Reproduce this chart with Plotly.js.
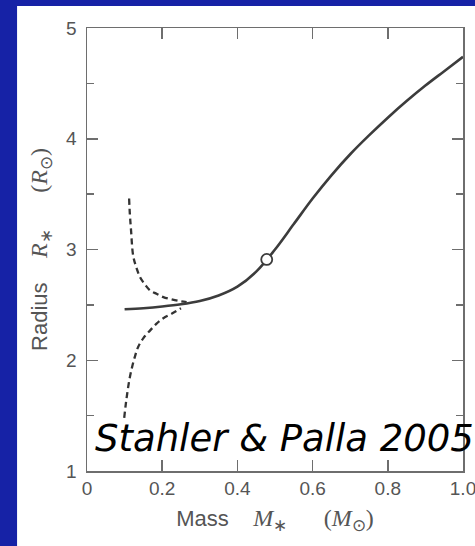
<!DOCTYPE html>
<html>
<head>
<meta charset="utf-8">
<script src="https://cdn.plot.ly/plotly-3.0.1.min.js"></script>
<style>html,body{margin:0;padding:0;background:#1622a6;}#chart{width:475px;height:546px;}</style>
</head>
<body>
<div id="chart"></div>
<script>
// Solid curve (main track)
const solidMass   = [0.10,0.15,0.20,0.25,0.30,0.35,0.40,0.45,0.50,0.55,0.60,0.65,0.70,0.75,0.80,0.85,0.90,0.95,1.00];
const solidRadius = [2.46,2.47,2.485,2.505,2.535,2.585,2.665,2.80,3.00,3.23,3.46,3.67,3.86,4.03,4.19,4.34,4.48,4.61,4.74];
// Upper dashed curve
const upperMass   = [0.112,0.114,0.117,0.123,0.132,0.141,0.155,0.168,0.185,0.203,0.225,0.245,0.265];
const upperRadius = [3.46,3.32,3.18,2.94,2.83,2.75,2.68,2.63,2.60,2.57,2.55,2.535,2.525];
// Lower dashed curve
const lowerMass   = [0.099,0.103,0.107,0.113,0.12,0.128,0.136,0.15,0.168,0.185,0.203,0.225,0.25];
const lowerRadius = [1.48,1.60,1.70,1.83,1.94,2.04,2.12,2.20,2.27,2.33,2.38,2.42,2.47];
// Marked point
const pointMass = [0.478];
const pointRadius = [2.91];
// Ticks
const xTickVals = [0,0.2,0.4,0.6,0.8,1.0];
const xTickText = ["0","0.2","0.4","0.6","0.8","1.0"];
const yTickVals = [1,2,3,4,5];
const yTickText = ["1","2","3","4","5"];
const yMinorVals = [1.5,2.5,3.5,4.5];

const NB = "\u00a0";
const serif = "font-family:Liberation Serif;font-size:24px";
const xTitle = "Mass" + NB.repeat(4) + "<span style=\"" + serif + "\"><i>M</i><sub>∗</sub></span>" + NB.repeat(6) + "<span style=\"" + serif + "\">(<i>M</i><sub>⊙</sub>)</span>";
const yTitle = "Radius" + NB.repeat(4) + "<span style=\"" + serif + "\"><i>R</i><sub>∗</sub></span>" + NB.repeat(6) + "<span style=\"" + serif + "\">(<i>R</i><sub>⊙</sub>)</span>";

const lineCol = "#3c3c3c";
const axCol = "#6e6e6e";
const txtCol = "#555555";
const sans = "Liberation Sans, Arial, sans-serif";

const traces = [
  {x: upperMass, y: upperRadius, mode: "lines", line: {color: "#333", width: 2.3, dash: "6px,4px", shape: "spline"}, hoverinfo: "skip"},
  {x: lowerMass, y: lowerRadius, mode: "lines", line: {color: "#333", width: 2.3, dash: "6px,4px", shape: "spline"}, hoverinfo: "skip"},
  {x: solidMass, y: solidRadius, mode: "lines", line: {color: lineCol, width: 2.6, shape: "spline"}, hoverinfo: "skip"},
  {x: pointMass, y: pointRadius, mode: "markers", marker: {symbol: "circle", size: 11, color: "white", line: {color: lineCol, width: 1.8}}, hoverinfo: "skip"}
];

const layout = {
  width: 475, height: 546,
  margin: {l: 87, r: 12, t: 28, b: 75},
  paper_bgcolor: "#1622a6",
  plot_bgcolor: "white",
  showlegend: false,
  shapes: [{type: "rect", xref: "paper", yref: "paper", x0: -0.186, x1: 1.2, y0: -0.3, y1: 1.0497, fillcolor: "white", line: {width: 0}, layer: "below"}],
  xaxis: {
    range: [0, 1.0], showgrid: false, zeroline: false,
    showline: true, linecolor: axCol, linewidth: 1.5, mirror: "ticks",
    ticks: "inside", ticklen: 11, tickwidth: 1.5, tickcolor: axCol,
    tickmode: "array", tickvals: xTickVals, ticktext: xTickText, ticklabeloverflow: "allow",
    tickfont: {family: sans, size: 19, color: txtCol},
    title: {text: xTitle, font: {family: sans, size: 22, color: txtCol}, standoff: 12}
  },
  yaxis: {
    range: [1, 5], showgrid: false, zeroline: false,
    showline: true, linecolor: axCol, linewidth: 1.5, mirror: "ticks",
    ticks: "inside", ticklen: 11, tickwidth: 1.5, tickcolor: axCol,
    tickmode: "array", tickvals: yTickVals, ticktext: yTickText, ticklabeloverflow: "allow",
    tickfont: {family: sans, size: 19, color: txtCol},
    ticklabelstandoff: 5,
    minor: {tickmode: "array", tickvals: yMinorVals, ticks: "inside", ticklen: 7, tickwidth: 1.5, tickcolor: axCol, showgrid: false},
    title: {text: yTitle, font: {family: sans, size: 22, color: txtCol}, standoff: 12}
  },
  annotations: [{
    text: "Stahler & Palla 2005", xref: "x", yref: "y", x: 0.015, y: 1.29,
    xanchor: "left", yanchor: "middle", showarrow: false,
    font: {family: "DejaVu Sans", size: 37, color: "black", style: "italic"}
  }]
};

Plotly.newPlot("chart", traces, layout, {staticPlot: true, displayModeBar: false});
</script>
</body>
</html>
